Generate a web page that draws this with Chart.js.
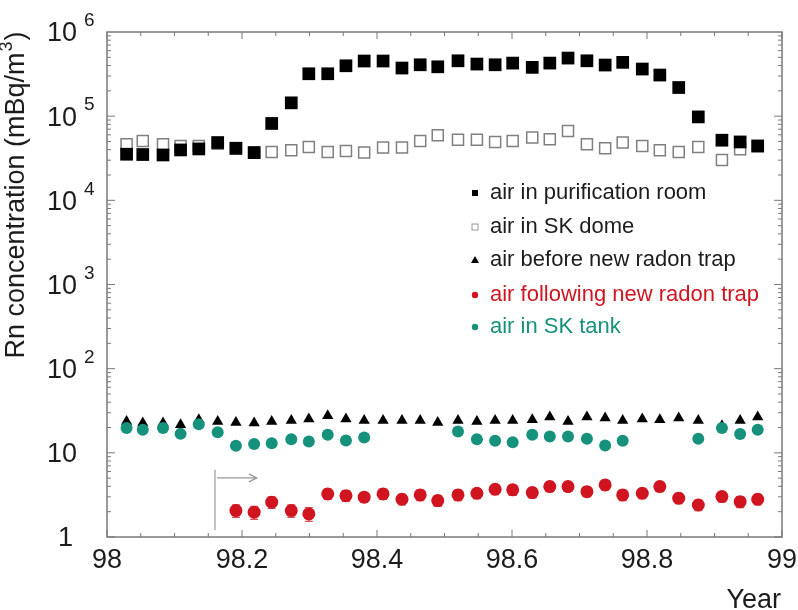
<!DOCTYPE html>
<html>
<head>
<meta charset="utf-8">
<script src="https://cdn.jsdelivr.net/npm/chart.js@4/dist/chart.umd.min.js"></script>
<style>
html,body{margin:0;padding:0;background:#fff;}
canvas{display:block;}
</style>
</head>
<body>
<canvas id="c" width="798" height="610"></canvas>
<script>
// ---- data ----
const xYears = [98.029,98.053,98.083,98.109,98.136,98.164,98.191,98.218,98.244,98.273,98.299,98.327,98.354,98.381,98.409,98.437,98.464,98.490,98.520,98.548,98.575,98.601,98.630,98.656,98.683,98.711,98.738,98.764,98.793,98.819,98.847,98.876,98.911,98.938,98.964];
const purificationRoom = [35300,35000,34600,39700,40800,48600,41600,36900,81900,144000,319000,319000,397000,452000,452000,373000,408000,386000,455000,416000,408000,427000,380000,427000,490000,455000,405000,436000,363000,308000,219000,98000,51800,49400,44300];
const skDome = [46400,50800,46400,44300,44300,47000,41000,37000,37600,39400,43100,37600,38600,36900,42400,42400,50800,59400,52300,52300,49400,50800,55700,53200,66800,46400,41600,48600,44300,39400,37600,43100,30200,40500,44000];
const beforeTrap = [23.6,22.6,22.6,21.5,24.7,23.6,22.9,22.6,23.6,24.2,25.2,27.6,25.2,24.2,24.2,24.2,24.2,22.9,24.2,23.6,24.2,24.2,24.7,26.6,23.6,26.6,25.9,24.2,25.2,24.7,25.9,24.2,21.0,24.2,26.6];
const followingTrap = [null,null,null,null,null,null,2.06,1.97,2.59,2.06,1.88,3.25,3.10,2.97,3.25,2.81,3.16,2.71,3.16,3.31,3.69,3.63,3.37,3.97,3.97,3.46,4.16,3.16,3.31,3.97,2.89,2.40,3.02,2.63,2.81];
const followingErr = [null,null,null,null,null,null,0.35,0.35,0.4,0.35,0.35,0.45,0.45,0.4,0.45,0.4,0.45,0.4,0.45,0.45,0.5,0.5,0.45,0.5,0.5,0.45,0.55,0.45,0.45,0.5,0.4,0.35,0.4,0.4,0.4];
const skTank = [19.7,18.8,19.7,16.8,21.9,17.6,12.1,12.7,13.0,14.5,13.6,16.4,14.0,15.2,null,null,null,null,17.9,14.5,13.9,13.4,16.4,15.6,15.6,14.7,12.2,13.9,null,null,null,14.7,19.7,16.7,18.8];

const seriesLabels = ['air in purification room','air in SK dome','air before new radon trap','air following new radon trap','air in SK tank'];
const xTickValues = [98,98.2,98.4,98.6,98.8,99];
const xTickLabels = ['98','98.2','98.4','98.6','98.8','99'];
const yTickValues = [1,10,100,1000,10000,100000,1000000];
const yTickBase = ['1','10','10','10','10','10','10'];
const yTickExp = ['','','2','3','4','5','6'];
const xTitle = 'Year';
const yTitleMain = 'Rn concentration (mBq/m';
const yTitleSup = '3';
const yTitleEnd = ')';
const arrowX = [98.16, 98.222];
const arrowY = [1.21, 6.3, 5.04];

// ---- styles ----
const RED = '#d11520';
const TEAL = '#16927c';
const FONT = "'Liberation Sans', Arial, Helvetica, sans-serif";
const TXT = '#1c1c1c';

function pts(arr){ return xYears.map((x,i)=>({x:x, y:arr[i]})); }

const datasets = [
  {label:seriesLabels[4], data:pts(skTank), pointStyle:'circle', pointRadius:6, backgroundColor:TEAL, borderColor:TEAL, borderWidth:0, order:1},
  {label:seriesLabels[3], data:pts(followingTrap), pointStyle:'circle', pointRadius:6.5, backgroundColor:RED, borderColor:RED, borderWidth:0, order:2},
  {label:seriesLabels[2], data:pts(beforeTrap), pointStyle:'triangle', pointRadius:6.5, backgroundColor:'#000', borderColor:'#000', borderWidth:0, order:3},
  {label:seriesLabels[0], data:pts(purificationRoom), pointStyle:'rect', pointRadius:9, backgroundColor:'#000', borderColor:'#000', borderWidth:0, order:4},
  {label:seriesLabels[1], data:pts(skDome), pointStyle:'rect', pointRadius:7.8, backgroundColor:'#fff', borderColor:'#808080', borderWidth:1.5, order:5}
];
datasets.forEach(d=>{ d.showLine=false; d.pointHoverRadius=d.pointRadius; });

const decor = {
  id:'decor',
  beforeDatasetsDraw(chart){
    const ctx = chart.ctx, xs = chart.scales.x, ys = chart.scales.y;
    ctx.save();
    // error bars for red series
    ctx.strokeStyle = 'rgba(209,21,32,0.75)'; ctx.lineWidth = 1.2;
    xYears.forEach((xv,i)=>{
      const v = followingTrap[i], e = followingErr[i];
      if(v==null||e==null) return;
      const px = xs.getPixelForValue(xv);
      const y1 = ys.getPixelForValue(v+e), y2 = ys.getPixelForValue(v-e);
      ctx.beginPath();
      ctx.moveTo(px,y1); ctx.lineTo(px,y2);
      ctx.moveTo(px-4,y1); ctx.lineTo(px+4,y1);
      ctx.moveTo(px-4,y2); ctx.lineTo(px+4,y2);
      ctx.stroke();
    });
    // arrow annotation
    ctx.strokeStyle = '#9a9a9a'; ctx.lineWidth = 1.2;
    const ax0 = xs.getPixelForValue(arrowX[0]), ax1 = xs.getPixelForValue(arrowX[1]);
    const ay0 = ys.getPixelForValue(arrowY[0]), ay1 = ys.getPixelForValue(arrowY[1]), ay2 = ys.getPixelForValue(arrowY[2]);
    ctx.beginPath();
    ctx.moveTo(ax0,ay0); ctx.lineTo(ax0,ay1);
    ctx.moveTo(ax0+2,ay2); ctx.lineTo(ax1,ay2);
    ctx.moveTo(ax1-8,ay2-4); ctx.lineTo(ax1,ay2); ctx.lineTo(ax1-8,ay2+4);
    ctx.stroke();
    ctx.restore();
  },
  afterDatasetsDraw(chart){
    const ctx = chart.ctx, xs = chart.scales.x, ys = chart.scales.y, a = chart.chartArea;
    ctx.save();
    // frame
    ctx.strokeStyle = '#7a7a7a'; ctx.lineWidth = 1.5;
    ctx.strokeRect(a.left, a.top, a.right-a.left, a.bottom-a.top);
    // x ticks (every 0.05)
    ctx.lineWidth = 1;
    ctx.beginPath();
    for(let k=0;k<=20;k++){
      const v = 98 + k*0.05;
      const px = xs.getPixelForValue(v);
      const len = (k%4===0)?7:4;
      ctx.moveTo(px,a.bottom); ctx.lineTo(px,a.bottom-len);
      ctx.moveTo(px,a.top); ctx.lineTo(px,a.top+len);
    }
    // y ticks
    for(let d=0; d<6; d++){
      for(let m=1;m<=9;m++){
        const v = Math.pow(10,d)*m;
        const py = ys.getPixelForValue(v);
        const len = (m===1)?8:4;
        ctx.moveTo(a.left,py); ctx.lineTo(a.left+len,py);
        ctx.moveTo(a.right,py); ctx.lineTo(a.right-len,py);
      }
    }
    ctx.stroke();
    // x tick labels
    ctx.fillStyle = TXT;
    ctx.font = '27px ' + FONT;
    ctx.textAlign = 'center'; ctx.textBaseline = 'middle';
    xTickValues.forEach((v,i)=>{
      ctx.fillText(xTickLabels[i], xs.getPixelForValue(v), a.bottom + 24);
    });
    // x title
    ctx.textAlign = 'right';
    ctx.fillText(xTitle, a.right-1, a.bottom + 64);
    // y tick labels
    yTickValues.forEach((v,i)=>{
      const py = ys.getPixelForValue(v);
      ctx.font = '27px ' + FONT;
      ctx.textAlign = 'right'; ctx.textBaseline = 'middle';
      const right = yTickBase[i]==='1' ? 73 : 77;
      ctx.fillText(yTickBase[i], right, py + 2);
      if(yTickExp[i]){
        ctx.font = '19px ' + FONT;
        ctx.textAlign = 'left';
        ctx.fillText(yTickExp[i], 84, py - 11);
      }
    });
    // y title
    ctx.save();
    ctx.translate(17, 196);
    ctx.rotate(-Math.PI/2);
    ctx.textBaseline = 'middle'; ctx.textAlign = 'left';
    ctx.font = '27px ' + FONT;
    const w1 = ctx.measureText(yTitleMain).width;
    ctx.font = '18px ' + FONT;
    const w2 = ctx.measureText(yTitleSup).width;
    ctx.font = '27px ' + FONT;
    const w3 = ctx.measureText(yTitleEnd).width;
    let sx = -(w1+w2+w3)/2;
    ctx.fillText(yTitleMain, sx, 0); sx += w1;
    ctx.font = '18px ' + FONT;
    ctx.fillText(yTitleSup, sx+1, -10); sx += w2+2;
    ctx.font = '27px ' + FONT;
    ctx.fillText(yTitleEnd, sx, 0);
    ctx.restore();
    // legend
    const legY = [193,227,260,295,327];
    const legColors = [TXT, TXT, TXT, RED, TEAL];
    const symX = 475, txtX = 490;
    ctx.font = '22px ' + FONT;
    ctx.textAlign = 'left'; ctx.textBaseline = 'middle';
    for(let i=0;i<5;i++){
      const y = legY[i];
      ctx.fillStyle = legColors[i];
      ctx.fillText(seriesLabels[i], txtX, y);
      if(i===0){ ctx.fillStyle='#000'; ctx.fillRect(symX-3,y-3,6,6); }
      else if(i===1){ ctx.strokeStyle='#999'; ctx.lineWidth=1; ctx.strokeRect(symX-3,y-3,6,6); }
      else if(i===2){ ctx.fillStyle='#000'; ctx.beginPath(); ctx.moveTo(symX,y-4); ctx.lineTo(symX+4,y+3); ctx.lineTo(symX-4,y+3); ctx.closePath(); ctx.fill(); }
      else { ctx.fillStyle = legColors[i]; ctx.beginPath(); ctx.arc(symX,y,3.2,0,Math.PI*2); ctx.fill(); }
    }
    ctx.restore();
  }
};

new Chart(document.getElementById('c'), {
  type:'scatter',
  data:{datasets:datasets},
  options:{
    responsive:false,
    animation:false,
    events:[],
    layout:{padding:{left:107,right:16,top:32,bottom:73}},
    plugins:{legend:{display:false}, tooltip:{enabled:false}},
    scales:{
      x:{type:'linear', min:98, max:99, display:false},
      y:{type:'logarithmic', min:1, max:1000000, display:false}
    }
  },
  plugins:[decor]
});
</script>
</body>
</html>
